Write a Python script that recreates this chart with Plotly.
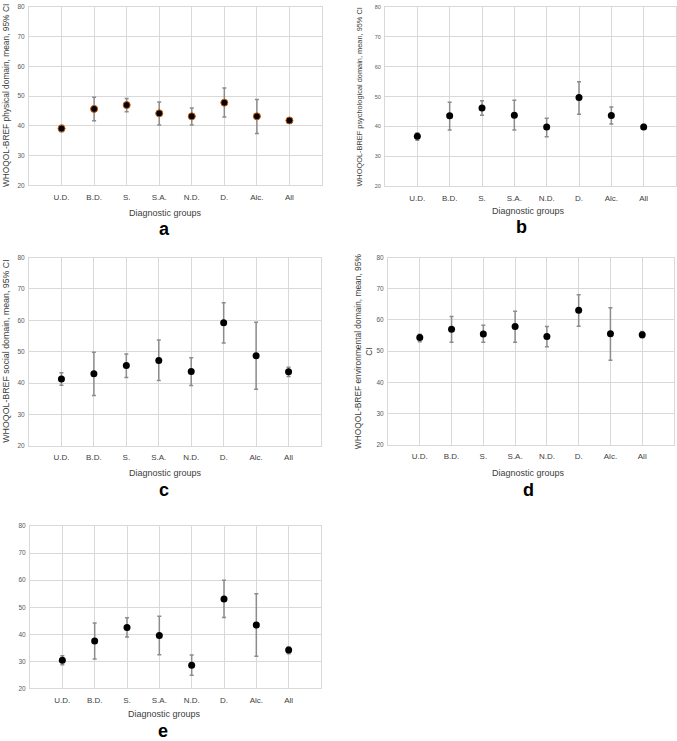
import plotly.graph_objects as go

categories = ["U.D.", "B.D.", "S.", "S.A.", "N.D.", "D.", "Alc.", "All"]
y_ticks = [20, 30, 40, 50, 60, 70, 80]

physical_mean = [39.1, 45.7, 47.0, 44.2, 43.2, 47.8, 43.2, 41.8]
physical_low = [38.0, 41.7, 44.7, 40.3, 40.3, 43.0, 37.4, 41.0]
physical_high = [40.2, 49.6, 49.2, 48.0, 46.0, 52.7, 48.9, 42.4]

psych_mean = [36.7, 43.6, 46.2, 43.8, 39.8, 49.7, 43.7, 39.8]
psych_low = [35.4, 38.8, 43.8, 38.8, 36.6, 44.1, 40.8, 39.1]
psych_high = [37.8, 48.1, 48.6, 48.8, 42.8, 55.0, 46.5, 40.7]

social_mean = [41.3, 43.0, 45.6, 47.2, 43.7, 59.2, 48.7, 43.6]
social_low = [39.3, 36.0, 41.8, 40.8, 39.2, 52.8, 38.0, 42.1]
social_high = [43.3, 49.8, 49.3, 53.7, 48.1, 65.6, 59.4, 45.0]

env_mean = [54.4, 57.0, 55.5, 57.9, 54.7, 63.1, 55.6, 55.3]
env_low = [53.0, 52.9, 52.9, 52.9, 51.4, 58.0, 47.1, 54.3]
env_high = [55.4, 61.1, 58.3, 62.8, 57.9, 68.1, 63.9, 56.3]

other_mean = [30.4, 37.5, 42.5, 39.6, 28.6, 53.0, 43.4, 34.2]
other_low = [28.8, 30.9, 39.0, 32.5, 24.9, 46.2, 31.9, 32.8]
other_high = [32.1, 44.2, 46.1, 46.7, 32.4, 60.0, 55.0, 35.3]

panel_letters = ["a", "b", "c", "d", "e"]
y_titles = [
    "WHOQOL-BREF physical domain, mean, 95% CI",
    "WHOQOL-BREF psychological domain, mean, 95% CI",
    "WHOQOL-BREF social domain, mean, 95% CI",
    "WHOQOL-BREF environmental domain, mean, 95%<br>CI",
    "",
]
x_title = "Diagnostic groups"

W, H = 677, 741
FONT = "Liberation Sans, Arial, sans-serif"


def fx(p):
    return p / W


def fy(p):
    return 1 - p / H


# layout geometry (pixels): plot box, tick font, y-title x/size, text rows
panels = [
    dict(mean=physical_mean, low=physical_low, high=physical_high,
         box=(29, 322, 3, 183), tickfont=6.5, ytx=6, yts=8.4,
         xt=(165, 211), lab=(164, 227), mline="#c55a11", mw=1),
    dict(mean=psych_mean, low=psych_low, high=psych_high,
         box=(385, 676, 3, 184), tickfont=5.5, ytx=360, yts=7.4,
         xt=(528, 209), lab=(521, 225), mline="black", mw=0),
    dict(mean=social_mean, low=social_low, high=social_high,
         box=(29, 321, 256, 446), tickfont=6.5, ytx=6, yts=8.8,
         xt=(165, 473), lab=(164, 491), mline="black", mw=0),
    dict(mean=env_mean, low=env_low, high=env_high,
         box=(388, 674, 256, 445), tickfont=6.5, ytx=363, yts=8.4,
         xt=(528, 473), lab=(528, 491), mline="black", mw=0),
    dict(mean=other_mean, low=other_low, high=other_high,
         box=(30, 321, 527, 691), tickfont=6.5, ytx=6, yts=8.4,
         xt=(164, 717), lab=(163, 734), mline="black", mw=0),
]

fig = go.Figure()
annotations = []
grid = "#d9d9d9"

for i, p in enumerate(panels):
    n = i + 1
    xa = "x" if n == 1 else f"x{n}"
    ya = "y" if n == 1 else f"y{n}"
    up = [h - m for h, m in zip(p["high"], p["mean"])]
    dn = [m - l for m, l in zip(p["mean"], p["low"])]
    fig.add_trace(go.Scatter(
        x=categories, y=p["mean"], mode="markers", xaxis=xa, yaxis=ya,
        marker=dict(color="black", size=7, line=dict(color=p["mline"], width=p["mw"])),
        error_y=dict(type="data", symmetric=False, array=up, arrayminus=dn,
                     color="#8c8c8c", thickness=1.5, width=2),
        showlegend=False, hoverinfo="x+y",
    ))
    x0, x1, y0, y1 = p["box"]
    xkey = "xaxis" if n == 1 else f"xaxis{n}"
    ykey = "yaxis" if n == 1 else f"yaxis{n}"
    fig.update_layout(**{
        xkey: dict(domain=[fx(x0), fx(x1)], anchor=ya, type="category",
                   range=[-1, 8], showgrid=True, gridcolor=grid, gridwidth=1,
                   showline=True, mirror=True, linecolor=grid, linewidth=1,
                   ticks="outside", ticklen=4, tickcolor="rgba(0,0,0,0)",
                   tickfont=dict(family=FONT, size=8, color="#404040"),
                   zeroline=False, fixedrange=True),
        ykey: dict(domain=[fy(y1), fy(y0)], anchor=xa, range=[20, 80],
                   tickvals=y_ticks, showgrid=True, gridcolor=grid, gridwidth=1,
                   showline=True, mirror=True, linecolor=grid, linewidth=1,
                   ticks="outside", ticklen=2, tickcolor="rgba(0,0,0,0)",
                   tickfont=dict(family=FONT, size=p["tickfont"], color="#595959"),
                   zeroline=False, fixedrange=True),
    })
    annotations.append(dict(
        text=x_title, x=fx(p["xt"][0]), y=fy(p["xt"][1]), xref="paper", yref="paper",
        xanchor="center", yanchor="middle", showarrow=False,
        font=dict(family=FONT, size=9, color="#404040")))
    annotations.append(dict(
        text="<b>" + panel_letters[i] + "</b>", x=fx(p["lab"][0]), y=fy(p["lab"][1]),
        xref="paper", yref="paper", xanchor="center", yanchor="middle",
        showarrow=False, font=dict(family=FONT, size=18, color="black")))
    if y_titles[i]:
        annotations.append(dict(
            text=y_titles[i], x=fx(p["ytx"]), y=fy((y0 + y1) / 2),
            xref="paper", yref="paper", xanchor="center", yanchor="middle",
            textangle=-90, showarrow=False, align="center",
            font=dict(family=FONT, size=p["yts"], color="#404040")))

fig.update_layout(
    width=W, height=H, margin=dict(l=0, r=0, t=0, b=0),
    paper_bgcolor="white", plot_bgcolor="white",
    annotations=annotations, font=dict(family=FONT),
)

fig.write_html(
    "out.html",
    config={"displayModeBar": False},
    post_script="document.body.style.margin='0';document.body.style.overflow='hidden';",
)
